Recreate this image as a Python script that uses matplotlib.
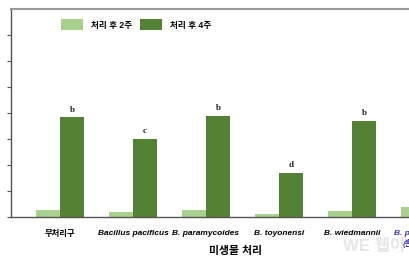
import numpy as np
import matplotlib
matplotlib.use("Agg")
import matplotlib.pyplot as plt

plt.rcParams['font.family'] = ['Liberation Sans', 'Noto Sans CJK KR', 'DejaVu Sans']

# data (y in tick units)
treatments = ["무처리구", "Bacillus pacificus", "B. paramycoides", "B. toyonensi",
              "B. wiedmannii", "B. paranthracis\n(혼합처리구)"]
week2 = [0.26, 0.18, 0.26, 0.10, 0.23, 0.38]
week4 = [3.81, 2.98, 3.88, 1.69, 3.67, 3.60]
letters = ["b", "c", "b", "d", "b", "b"]
series_names = ["처리 후 2주", "처리 후 4주"]

light = "#a9d18e"
dark = "#548235"

fig = plt.figure(figsize=(4.1, 2.72), dpi=100)
# the source picture is cropped on the right: the axes ends at the figure edge
ax = fig.add_axes([11 / 410, 55.5 / 272, 399 / 410, 208 / 272])
ax.patch.set_visible(False)

x = np.arange(len(treatments))
w = 0.33
ax.bar(x - w / 2, week2, w, color=light, label=series_names[0])
ax.bar(x + w / 2, week4, w, color=dark, label=series_names[1])

for xi, h, t in zip(x, week4, letters):
    ax.text(xi + w / 2, h + 0.15, t, ha="center", va="bottom", fontsize=6.5,
            family="Liberation Serif", fontweight="bold", color="#222222",
            clip_on=True)

ax.set_xlim(-0.67, -0.67 + 399 / 73)
ax.set_ylim(0, 8)
ax.set_yticks(range(8))
ax.tick_params(axis="y", direction="out", length=3, width=0.8, color="#555555",
               labelleft=False)
ax.set_xticks(x[:-1])
ax.set_xticklabels(treatments[:-1])
ax.tick_params(axis="x", length=0, pad=10)
for lab in ax.get_xticklabels():
    lab.set_fontsize(6)
    lab.set_fontweight("bold")
    lab.set_verticalalignment("top")
    if lab.get_text() != "무처리구":
        lab.set_fontstyle("italic")
# last group sits past the crop, its label only partly shows
ax.annotate(treatments[-1], xy=(x[-1], 0), xytext=(0, -10), textcoords="offset points",
            ha="center", va="top", fontsize=6, fontweight="bold", fontstyle="italic",
            color="#3a3aa0", annotation_clip=False)

ax.spines["left"].set_color("#555555")
ax.spines["left"].set_linewidth(1.0)
ax.spines["bottom"].set_color("#555555")
ax.spines["bottom"].set_linewidth(1.0)
ax.spines["top"].set_color("#9a9a9a")
ax.spines["top"].set_linewidth(1.5)
ax.spines["right"].set_visible(False)

ax.set_xlabel("미생물 처리", fontsize=7.8, fontweight="bold")
ax.xaxis.set_label_coords((236 - 11) / 399, -0.14)

leg = ax.legend(loc="upper left", bbox_to_anchor=(0.107, 0.985), ncol=2, frameon=False,
                prop={"size": 6.2, "weight": "bold"}, handlelength=2.55, handleheight=1.6,
                handletextpad=0.9, columnspacing=0.9)

# faint watermark from the source picture
fig.text(343 / 410, 1 - 246 / 272, "WE 웹이", fontsize=12, color="#e6e6e6",
         va="center", ha="left", fontweight="bold", zorder=0)

fig.savefig("out.png", dpi=100)
